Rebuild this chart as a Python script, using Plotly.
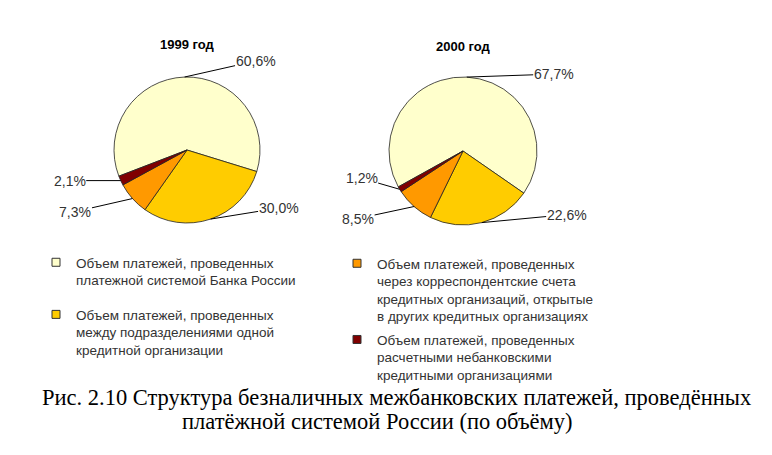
import math
import plotly.graph_objects as go

# data
labels = [
    "Объем платежей, проведенных<br>платежной системой Банка России",
    "Объем платежей, проведенных<br>между подразделениями одной<br>кредитной организации",
    "Объем платежей, проведенных<br>через корреспондентские счета<br>кредитных организаций, открытые<br>в других кредитных организациях",
    "Объем платежей, проведенных<br>расчетными небанковскими<br>кредитными организациями",
]
years = ["1999 год", "2000 год"]
share_1999 = [60.6, 30.0, 7.3, 2.1]
share_2000 = [67.7, 22.6, 8.5, 1.2]
colors = ["#FFFFCC", "#FFCC00", "#FF9900", "#800000"]

W, H = 772, 455
# pie geometry in pixels: centre x, centre y, radius, start angle
pies = [
    dict(cx=187, cy=150, r=73, rot=249, vals=share_1999, title_y=45,
         offs=[(71, -16), (68, -11), (-57, 13), (-51, 0)]),
    dict(cx=463, cy=151, r=74, rot=241, vals=share_2000, title_y=47,
         offs=[(87, -3), (85, -8), (-56, 12), (-38, -11)]),
]


def fmt(v):
    return f"{v:.1f}".replace(".", ",") + "%"


fig = go.Figure()
annotations = []
for name, p in zip(years, pies):
    dom_x = [(p["cx"] - p["r"]) / W, (p["cx"] + p["r"]) / W]
    dom_y = [1 - (p["cy"] + p["r"]) / H, 1 - (p["cy"] - p["r"]) / H]
    fig.add_trace(go.Pie(
        labels=labels,
        values=p["vals"],
        sort=False,
        direction="clockwise",
        rotation=p["rot"],
        textinfo="none",
        hoverinfo="label+percent",
        marker=dict(colors=colors, line=dict(color="#222222", width=0.8)),
        domain=dict(x=dom_x, y=dom_y),
        showlegend=False,
        name=name,
    ))
    annotations.append(dict(
        text="<b>" + name + "</b>", x=p["cx"] / W, y=1 - p["title_y"] / H,
        xref="paper", yref="paper", showarrow=False,
        xanchor="center", yanchor="middle",
        font=dict(family="Liberation Sans, Arial", size=13, color="#000000"),
    ))
    # labels with leader lines at the middle of each slice
    total = sum(p["vals"])
    start = p["rot"]
    for v, (ax, ay) in zip(p["vals"], p["offs"]):
        mid = math.radians(start + v / total * 180)
        start += v / total * 360
        hx = p["cx"] + p["r"] * math.sin(mid)
        hy = p["cy"] - p["r"] * math.cos(mid)
        annotations.append(dict(
            text=fmt(v), x=hx / W, y=1 - hy / H, xref="paper", yref="paper",
            showarrow=True, arrowhead=0, arrowwidth=1, arrowcolor="#000000",
            ax=ax, ay=ay, borderpad=0,
            font=dict(family="Liberation Sans, Arial", size=14, color="#333333"),
        ))

# legend entries (two columns)
for i, (lab, col) in enumerate(zip(labels, colors)):
    fig.add_trace(go.Scatter(
        x=[None], y=[None], mode="markers", name=lab,
        marker=dict(symbol="square", size=8, color=col,
                    line=dict(color="#333333", width=1)),
        legend="legend" if i < 2 else "legend2",
        legendgroup=str(i), hoverinfo="skip",
    ))

caption_font = dict(family="Liberation Serif, Times New Roman", size=22.5, color="#000000")
annotations.append(dict(
    text="Рис. 2.10 Структура безналичных межбанковских платежей, проведённых",
    x=40 / W, y=1 - 397 / H, xref="paper", yref="paper", xanchor="left",
    yanchor="middle", showarrow=False, font=caption_font,
))
annotations.append(dict(
    text="платёжной системой России (по объёму)",
    x=180 / W, y=1 - 421 / H, xref="paper", yref="paper", xanchor="left",
    yanchor="middle", showarrow=False, font=caption_font,
))

legend_font = dict(family="Liberation Sans, Arial", size=13.5, color="#333333")
fig.update_layout(
    width=W, height=H,
    margin=dict(l=0, r=0, t=0, b=0),
    paper_bgcolor="white", plot_bgcolor="white",
    xaxis=dict(visible=False), yaxis=dict(visible=False),
    annotations=annotations,
    legend=dict(x=36 / W, y=1 - 247 / H, xanchor="left", yanchor="top",
                valign="top", font=legend_font, tracegroupgap=14,
                bgcolor="rgba(0,0,0,0)"),
    legend2=dict(x=337 / W, y=1 - 248 / H, xanchor="left", yanchor="top",
                 valign="top", font=legend_font, tracegroupgap=3,
                 bgcolor="rgba(0,0,0,0)"),
)

fig.write_html("out.html", config={"displayModeBar": False},
               post_script="document.body.style.margin='0';")
